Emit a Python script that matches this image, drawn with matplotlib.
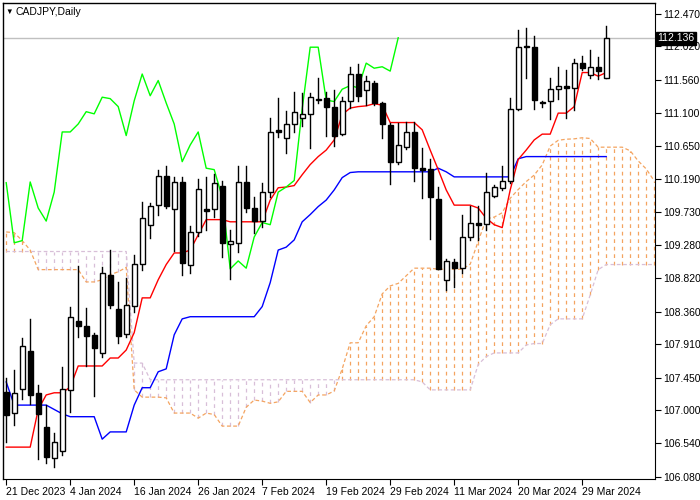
import matplotlib
matplotlib.use("Agg")
import matplotlib.pyplot as plt
import numpy as np

opens = [107.25,106.96,107.29,107.81,107.24,106.77,106.34,106.43,107.28,108.23,
         108.16,108.04,107.79,108.87,108.39,108.05,108.44,109.02,109.56,109.83,
         110.23,109.78,110.15,109.01,109.46,109.78,109.77,110.10,109.30,109.31,
         110.15,109.79,109.61,110.01,110.87,110.76,110.95,111.03,111.09,111.28,
         111.31,111.19,110.81,111.27,111.64,111.42,111.52,111.24,110.94,110.43,
         110.63,110.84,110.34,110.33,109.92,108.79,109.05,108.96,109.39,109.59,
         109.57,109.96,110.07,110.17,111.16,112.01,112.01,111.24,111.27,111.43,
         111.48,111.45,111.79,111.63,111.74,111.59]
highs = [107.45,107.56,107.99,108.26,107.35,107.07,106.69,107.60,108.43,108.99,
         108.41,108.07,108.97,109.21,108.77,108.83,109.14,109.87,109.86,110.32,
         110.37,110.22,110.22,109.54,110.19,110.22,110.26,110.17,109.49,110.37,
         110.37,109.94,110.14,111.03,111.31,111.13,111.39,111.38,111.38,111.59,
         111.39,111.42,111.32,111.74,111.78,111.61,111.55,111.26,110.97,110.97,
         110.98,110.98,110.62,110.47,110.08,109.08,109.09,109.70,109.82,109.82,
         110.28,110.11,110.37,111.31,112.25,112.28,112.17,111.27,111.59,111.73,
         111.70,111.85,111.89,111.97,111.88,112.30]
lows = [106.56,106.80,107.16,107.09,106.32,106.27,106.22,106.38,106.98,108.01,
        107.61,107.20,107.74,108.41,107.93,108.01,108.36,108.94,109.38,109.70,
        109.79,109.20,108.87,108.90,109.41,109.49,109.67,109.12,108.81,109.19,
        109.74,109.45,109.53,109.94,110.77,110.55,110.84,110.92,110.62,111.24,
        110.79,110.65,110.80,111.17,111.27,111.21,111.21,110.76,110.12,110.40,
        110.61,110.17,109.93,109.36,108.95,108.66,108.70,108.90,109.35,109.35,
        109.49,109.94,110.04,110.14,111.15,111.59,111.16,111.19,111.02,111.30,
        111.03,111.15,111.70,111.59,111.57,111.59]
closes = [106.94,107.24,107.89,107.21,106.95,106.36,106.56,107.29,108.29,108.16,
          108.03,107.86,108.90,108.45,108.03,108.45,109.02,109.65,109.82,110.23,
          109.82,110.15,109.03,109.46,110.05,109.75,110.14,109.31,109.34,110.15,
          109.79,109.61,110.01,110.84,110.84,110.95,111.12,111.09,111.32,111.30,
          111.19,110.79,111.27,111.64,111.34,111.55,111.24,110.95,110.43,110.66,
          110.84,110.34,110.32,109.94,108.95,109.06,108.96,109.39,109.59,109.56,
          110.01,110.08,110.17,111.16,112.01,112.01,111.28,111.26,111.43,111.48,
          111.45,111.79,111.72,111.74,111.68,112.14]
tenkan = [106.49,106.49,106.49,106.49,107.01,107.21,107.24,107.24,107.32,107.61,
          107.61,107.61,107.61,107.72,107.72,107.83,108.07,108.55,108.55,108.80,
          109.01,109.17,109.17,109.21,109.42,109.63,109.63,109.63,109.60,109.60,
          109.60,109.60,109.60,109.90,110.07,110.08,110.10,110.25,110.39,110.50,
          110.59,110.73,111.08,111.17,111.19,111.20,111.23,111.21,110.97,110.97,
          110.97,110.97,110.87,110.59,110.32,110.04,109.83,109.83,109.83,109.79,
          109.65,109.56,109.52,110.04,110.46,110.59,110.73,110.81,110.81,111.10,
          111.10,111.19,111.66,111.66,111.61,111.66]
kijun = [107.39,107.07,107.07,107.07,107.07,107.07,107.01,106.95,106.91,106.91,
         106.91,106.91,106.60,106.70,106.70,106.70,107.07,107.31,107.31,107.53,
         107.57,108.04,108.26,108.29,108.29,108.29,108.29,108.29,108.29,108.29,
         108.29,108.29,108.43,108.76,109.21,109.25,109.35,109.60,109.70,109.81,
         109.90,110.04,110.21,110.28,110.29,110.29,110.29,110.29,110.29,110.29,
         110.29,110.29,110.29,110.29,110.34,110.29,110.22,110.22,110.22,110.22,
         110.22,110.22,110.22,110.22,110.47,110.50,110.50,110.50,110.50,110.50,
         110.50,110.50,110.50,110.50,110.50,110.50]
span_a_early = [109.46,109.45,109.34,109.21,108.94,108.94,108.94,108.94,108.94,108.94,
                108.77,108.77,108.80,108.87,108.91,108.97,107.28,107.18,107.18,107.18,
                107.17,106.96,106.96,106.96,106.89,106.96]
span_b = [109.19]*16 + [107.65,107.65] + [107.42]*34 + [107.39] + [107.28]*6 + \
         [107.63,107.74,107.79,107.79,107.79,107.79,107.90,107.92,107.92,108.18,
          108.26,108.26,108.26,108.26,108.59,108.94] + [109.01]*7
date_labels = ["21 Dec 2023","4 Jan 2024","16 Jan 2024","26 Jan 2024","7 Feb 2024",
               "19 Feb 2024","29 Feb 2024","11 Mar 2024","20 Mar 2024","29 Mar 2024"]
price_ticks = [112.470,112.020,111.560,111.100,110.650,110.190,109.730,109.280,
               108.820,108.360,107.910,107.450,107.000,106.540,106.080]
last_price = 112.136
shift = 26

span_a = span_a_early + [(t + k) / 2 for t, k in zip(tenkan, kijun)][:len(span_b) - len(span_a_early)]

plt.rcParams['font.family'] = ['Liberation Sans', 'DejaVu Sans']
fig = plt.figure(figsize=(7, 5), dpi=100)
ax = fig.add_axes([3/700, 21/500, 652/700, 476/500])
ymin, ymax = 106.05, 112.62
ax.set_ylim(ymin, ymax)
ax.set_xlim(-0.4, 81.1)

# cloud hatch
xc = np.arange(len(span_b))
for j in xc:
    a, b = span_a[j], span_b[j]
    col = '#F4A460' if a > b else '#D8BFD8'
    ax.plot([j, j], [min(a, b), max(a, b)], color=col, lw=0.9, ls=(0, (3, 3)), zorder=1)
ax.plot(xc, span_a, color='#F4A460', lw=0.9, ls=(0, (3, 2)), zorder=1)
ax.plot(xc, span_b, color='#D8BFD8', lw=0.9, ls=(0, (3, 2)), zorder=1)

n = len(closes)
xi = np.arange(n)
ax.plot(xi, kijun, color='#0000FF', lw=1, zorder=2)
ax.plot(xi, tenkan, color='#FF0000', lw=1, zorder=2)
ax.plot(xi[:n - shift], closes[shift:], color='#00FF00', lw=1, zorder=2)

for i in range(n):
    o, h, l, c = opens[i], highs[i], lows[i], closes[i]
    ax.plot([i, i], [l, h], color='black', lw=1, zorder=3)
    bot, top = min(o, c), max(o, c)
    hgt = max(top - bot, 0.012)
    fc = 'white' if c > o else 'black'
    ax.add_patch(plt.Rectangle((i - 0.32, bot), 0.64, hgt, facecolor=fc,
                               edgecolor='black', lw=1, zorder=4))

ax.axhline(last_price, color='#C0C0C0', lw=1, zorder=0)

ax.yaxis.tick_right()
ax.set_yticks(price_ticks)
ax.set_yticklabels([f"{p:.3f}" for p in price_ticks], fontsize=7.5)
ax.tick_params(axis='y', length=4, pad=2)
ax.set_xticks(range(0, 80, 8))
ax.set_xticklabels(date_labels, fontsize=7.5, ha='left')
ax.tick_params(axis='x', length=4, pad=2)
for s in ['top', 'left']:
    ax.spines[s].set_visible(False)
ax.text(1.004, (last_price - ymin) / (ymax - ymin), f"{last_price:.3f}",
        transform=ax.transAxes, fontsize=7.5, color='white', va='center', ha='left',
        bbox=dict(boxstyle='square,pad=0.15', fc='black', ec='black'), zorder=10, clip_on=False)
fig.add_artist(plt.Line2D([3/700, 655/700], [497/500, 497/500], color='black', lw=1))
fig.add_artist(plt.Line2D([3/700, 3/700], [21/500, 497/500], color='black', lw=1))
fig.text(5/700, 1 - 12/500, "▼", fontsize=5.5, va='center')
fig.text(15/700, 1 - 12/500, "CADJPY,Daily", fontsize=7.5, va='center')
fig.savefig("out.png", dpi=100)
